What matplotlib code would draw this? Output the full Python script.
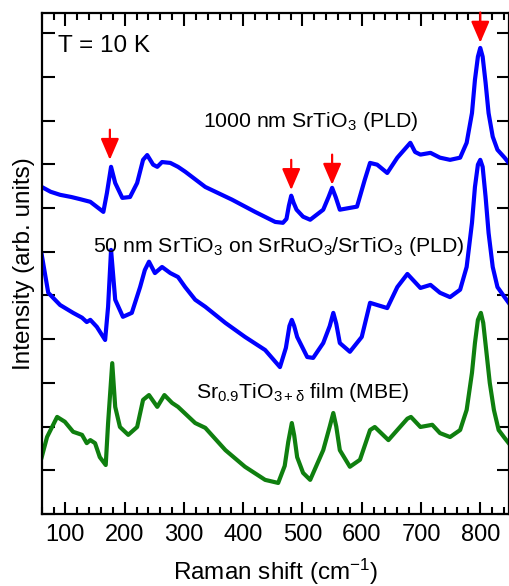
import matplotlib
matplotlib.use("Agg")
import matplotlib.pyplot as plt
from matplotlib.ticker import MultipleLocator

plt.rcParams['font.family'] = ['Liberation Sans', 'DejaVu Sans']
plt.rcParams['mathtext.fontset'] = 'custom'
plt.rcParams['mathtext.rm'] = 'Liberation Sans'
plt.rcParams['mathtext.it'] = 'Liberation Sans:italic'

# Raman shift (cm^-1) and intensity (arb. units, offset per spectrum)
x_pld1000 = [60, 75, 91, 110, 125, 142, 164, 170, 177, 184, 196, 209, 221, 231, 238, 248,
             255, 263, 277, 290, 302, 336, 381, 420, 454, 467, 473, 477, 481, 485, 490, 501,
             513, 535, 544, 550, 556, 563, 592, 605, 614, 626, 643, 660, 682, 690, 699, 716,
             732, 749, 766, 777, 786, 791, 796, 800, 804, 809, 814, 821, 829, 841, 848]
y_pld1000 = [748, 737, 730, 725, 720, 714, 691, 734, 794, 757, 723, 725, 757, 810, 821, 799,
             794, 805, 803, 794, 783, 748, 719, 691, 668, 666, 675, 705, 728, 712, 696, 680,
             673, 696, 725, 746, 725, 696, 703, 764, 803, 799, 780, 815, 849, 828, 822, 826,
             815, 810, 815, 849, 917, 993, 1046, 1066, 1046, 986, 917, 863, 833, 815, 803]

x_pld50 = [60, 71, 91, 113, 128, 136, 142, 153, 167, 172, 177, 184, 197, 212, 226, 234,
           241, 251, 263, 277, 290, 302, 319, 336, 370, 403, 437, 462, 472, 478, 482, 486,
           491, 508, 518, 535, 546, 552, 557, 563, 580, 600, 614, 626, 643, 660, 677, 699,
           716, 732, 749, 766, 777, 786, 791, 796, 800, 804, 809, 814, 821, 829, 841, 848]
y_pld50 = [593, 506, 478, 460, 449, 439, 444, 428, 398, 474, 604, 490, 451, 460, 519, 558,
           577, 551, 565, 551, 542, 519, 490, 474, 437, 405, 375, 336, 380, 430, 444, 430,
           405, 359, 357, 391, 430, 460, 435, 391, 371, 405, 483, 478, 471, 519, 549, 517,
           524, 506, 496, 513, 565, 666, 748, 799, 810, 794, 725, 643, 565, 519, 496, 483]

x_mbe = [60, 69, 86, 99, 113, 128, 136, 142, 150, 158, 168, 172, 179, 184, 192, 206,
         221, 231, 241, 255, 267, 280, 290, 319, 336, 370, 403, 437, 459, 470, 476, 482,
         486, 491, 501, 513, 535, 546, 552, 557, 563, 580, 597, 614, 622, 645, 660, 677,
         683, 699, 719, 732, 749, 766, 777, 786, 791, 796, 801, 805, 810, 816, 823, 831,
         841, 848]
y_mbe = [130, 176, 222, 211, 188, 181, 162, 169, 162, 130, 112, 208, 345, 245, 199, 181,
         199, 261, 272, 245, 272, 254, 245, 208, 197, 146, 108, 78, 71, 110, 165, 208,
         180, 130, 94, 78, 146, 200, 231, 200, 146, 108, 124, 192, 199, 169, 192, 218,
         222, 199, 204, 185, 176, 192, 238, 323, 391, 444, 460, 437, 375, 300, 238, 192,
         174, 162]

# peak markers
arrow_x = [175, 481, 550, 800]
arrow_tip = [810, 741, 753, 1078]

fig = plt.figure(figsize=(5.1, 5.86), dpi=100)
ax = fig.add_axes([0.0818, 0.1229, 0.9157, 0.855])

ax.plot(x_pld1000, y_pld1000, color='#0000ff', lw=3.0)
ax.plot(x_pld50, y_pld50, color='#0000ff', lw=3.0)
ax.plot(x_mbe, y_mbe, color='#0f7f0f', lw=3.0)

for xa, ya in zip(arrow_x, arrow_tip):
    ax.annotate('', xy=(xa, ya), xytext=(xa, ya + 69),
                arrowprops=dict(arrowstyle='-|>,head_length=0.65,head_width=0.28',
                                color='#ff0000', lw=1.6, mutation_scale=20,
                                shrinkA=0, shrinkB=0))

ax.text(0.035, 0.935, 'T = 10 K', transform=ax.transAxes, fontsize=17.5, va='center')
ax.text(332, 897, '1000 nm SrTiO$_\\mathregular{3}$ (PLD)', fontsize=15.3, va='center')
ax.text(147, 612, '50 nm SrTiO$_\\mathregular{3}$ on SrRuO$_\\mathregular{3}$/SrTiO$_\\mathregular{3}$ (PLD)',
        fontsize=15.3, va='center')
ax.text(321, 279, 'Sr$_\\mathregular{0.9}$TiO$_\\mathregular{3+δ}$ film (MBE)', fontsize=15.3, va='center')

ax.set_xlim(60, 848)
ax.set_ylim(0, 1146)
ax.xaxis.set_major_locator(MultipleLocator(100))
ax.xaxis.set_minor_locator(MultipleLocator(20))
ax.yaxis.set_major_locator(MultipleLocator(100))
ax.set_yticklabels([])
ax.tick_params(which='both', direction='in', top=True, right=True, width=1.5)
ax.tick_params(which='major', length=9, labelsize=17, pad=7)
ax.tick_params(which='minor', length=5)
for s in ax.spines.values():
    s.set_linewidth(1.6)

ax.set_xlabel('Raman shift (cm$^\\mathregular{-1}$)', fontsize=17.5, labelpad=8)
ax.set_ylabel('Intensity (arb. units)', fontsize=17.5, labelpad=-2)

fig.savefig('out.png', dpi=100)
